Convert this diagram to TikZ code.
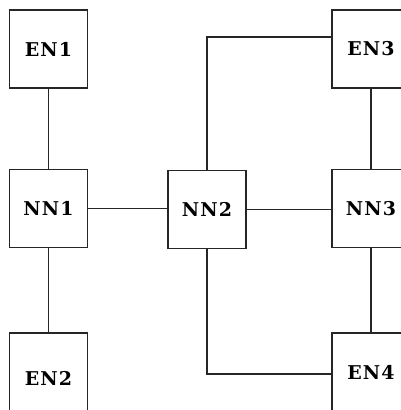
\documentclass[tikz,border=0pt]{standalone}
\usepackage{fontspec}
\newfontfamily\boxfont[LetterSpace=6]{DejaVu Serif}
\begin{document}
\begin{tikzpicture}[x=1pt,y=-1pt,
  netbox/.style={draw=black!85,line width=1.2pt,minimum width=78pt,minimum height=78pt,inner sep=0pt,font=\boxfont\bfseries\fontsize{19}{19}\selectfont},
  link/.style={draw=black!85,line width=1.2pt}]
\useasboundingbox (0,0) rectangle (401,410);
\clip (0,0) rectangle (401,410);
\node[netbox] (EN1) at (48.5,49) {EN1};
\node[netbox] (NN1) at (48.5,208.5) {NN1};
\node[netbox,text height=26pt,text depth=0pt] (EN2) at (48.5,372) {EN2};
\node[netbox] (NN2) at (207,209.5) {NN2};
\node[netbox] (EN3) at (371,49) {EN3};
\node[netbox] (NN3) at (371,208.5) {NN3};
\node[netbox] (EN4) at (371,372) {EN4};
\draw[link] (EN1) -- (NN1);
\draw[link] (NN1) -- (EN2);
\draw[link] (NN1.east) -- (NN1.east -| NN2.west);
\draw[link] (NN2.east) -- (NN2.east -| NN3.west);
\draw[link] (EN3) -- (NN3);
\draw[link] (NN3) -- (EN4);
\draw[link] (NN2.north) |- ([yshift=12pt]EN3.west);
\draw[link] (NN2.south) |- ([yshift=-2pt]EN4.west);
\end{tikzpicture}
\end{document}
